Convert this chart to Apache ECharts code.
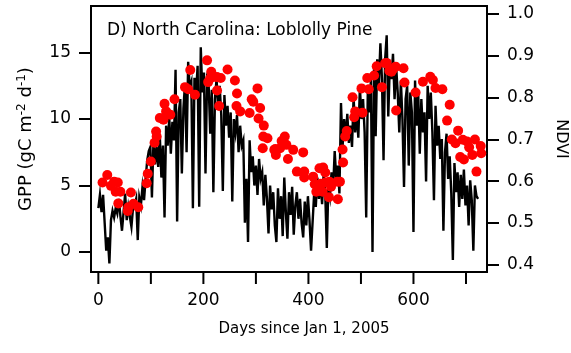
<!DOCTYPE html>
<html>
<head>
<meta charset="utf-8">
<script src="https://cdn.jsdelivr.net/npm/echarts@6/dist/echarts.min.js"></script>
<style>
html,body{margin:0;padding:0;background:#fff;}
#chart{width:571px;height:353px;}
</style>
</head>
<body>
<div id="chart"></div>
<script>
// ---- Data ----
const titleText = 'D) North Carolina: Loblolly Pine';
const xAxisTitle = 'Days since Jan 1, 2005';

// Daily GPP sampled every 3 days starting at day 0 (gC m-2 d-1)
const gppStartDay = 0;
const gppStepDays = 3;
const gpp = [
  3.3, 4.3, 3.0, 4.3, 2.2, 0.1, 1.1, -0.85, 2.4, 3.1,
  2.6, 3.3, 2.9, 4.0, 2.7, 1.6, 3.0, 4.4, 2.4, 3.4,
  3.3, 1.9, 3.3, 3.5, 4.0, 0.9, 4.1, 3.5, 4.9, 3.9,
  5.5, 6.9, 7.6, 7.9, 4.1, 8.4, 6.6, 7.9, 6.4, 8.8,
  5.6, 8.0, 2.6, 9.5, 8.0, 10.1, 7.4, 9.8, 8.4, 13.7,
  2.3, 10.5, 11.5, 5.9, 10.8, 12.7, 7.5, 14.3, 12.4, 12.8,
  3.3, 13.1, 11.9, 14.0, 3.4, 15.4, 12.0, 13.5, 5.9, 13.0,
  12.6, 8.9, 12.2, 4.5, 11.5, 13.0, 11.0, 12.5, 10.3, 4.6,
  11.8, 9.5, 11.0, 8.6, 10.5, 3.8, 10.0, 9.0, 10.3, 7.5,
  9.5, 8.0, 8.4, 2.2, 5.5, 0.75, 8.4, 6.0, 7.2, 5.0,
  6.5, 4.3, 7.0, 5.5, 6.0, 3.5, 5.8, 4.0, 1.4, 5.0,
  3.2, 4.5, 2.0, 0.75, 4.8, 2.5, 4.2, 1.2, 5.6, 3.0,
  1.0, 4.5, 2.8, 4.9, 1.3, 3.5, 4.5, 2.5, 4.0, 2.2,
  1.1, 3.8, 2.0, 4.2, 2.4, 0.1, 0.25, 4.5, 3.4, 5.6,
  4.0, 5.2, 3.6, 5.9, 4.4, 0.3, 5.0, 4.2, 6.0, 4.8,
  7.6, 5.5, 6.5, 4.4, 11.2, 7.9, 10.0, 8.5, 10.4, 8.2,
  9.5, 7.9, 11.7, 9.0, 10.5, 8.6, 12.4, 10.0, 11.5, 9.0,
  2.6, 12.0, 10.5, 13.0, 0.0, 14.0, 8.7, 14.5, 12.5, 15.7,
  13.0, 6.9, 14.5, 16.3, 10.2, 14.2, 13.0, 14.9, 11.5, 14.0,
  12.0, 9.0, 12.9, 10.0, 4.9, 11.5, 12.5, 6.5, 12.0, 10.5,
  1.5, 12.9, 9.5, 12.0, 7.4, 11.5, 9.0, 10.5, 5.3, 12.5,
  10.0, 12.0, 9.0, 3.9, 11.0, 8.0, 9.5, 7.0, 8.5, 1.6,
  7.5, 8.9, 5.5, 7.2, 4.4, -0.6, 6.7, 4.5, 6.0, 3.4,
  5.8, 4.0, 6.2, 3.5, 5.0, 2.0, 5.4, 3.9, 0.1, 5.0,
  4.2, 4.0
];

// NDVI observations (day, value)
const ndviDays = [
  8, 17, 24, 30, 33, 37, 38, 42, 56, 57, 62, 67, 76,
  92, 94, 100, 107, 110, 111, 117, 124, 126, 129, 137, 145,
  165, 171, 175, 184, 207, 209, 213, 215, 220, 226, 226, 230, 233,
  246, 260, 263, 264, 270, 288, 292, 295, 303, 305, 308,
  313, 314, 315, 322, 335, 337, 338, 346, 349, 355, 358, 361,
  371, 378, 390, 392, 392, 409, 412, 415, 421, 423, 427, 428, 432, 432,
  439, 440, 443, 455, 456, 460, 465, 466, 470, 473,
  484, 487, 489, 501, 503, 512, 515, 525, 530, 540, 546, 549,
  554, 558, 561, 566, 567, 581, 583, 604, 618, 632, 637, 642, 655,
  664, 669, 673, 680, 685, 689, 694, 696, 702, 706, 712, 717, 720, 728, 729
];
const ndvi = [
  0.597, 0.615, 0.589, 0.599, 0.575, 0.597, 0.547, 0.575, 0.529, 0.538, 0.573, 0.546, 0.538,
  0.595, 0.618, 0.647, 0.692, 0.719, 0.707, 0.751, 0.747, 0.785, 0.767, 0.759, 0.796,
  0.825, 0.820, 0.866, 0.807, 0.889, 0.837, 0.846, 0.862, 0.850, 0.817, 0.849, 0.780, 0.847,
  0.867, 0.841, 0.780, 0.810, 0.767, 0.763, 0.796, 0.790, 0.822, 0.750, 0.775,
  0.679, 0.707, 0.733, 0.703, 0.675, 0.677, 0.663, 0.679, 0.696, 0.707, 0.687, 0.653,
  0.675, 0.623, 0.669, 0.623, 0.609, 0.611, 0.593, 0.575, 0.631, 0.594, 0.575, 0.633, 0.621, 0.597,
  0.562, 0.599, 0.587, 0.599, 0.557, 0.599, 0.676, 0.645, 0.707, 0.720,
  0.801, 0.753, 0.767, 0.822, 0.764, 0.847, 0.820, 0.853, 0.875, 0.825, 0.882, 0.883,
  0.864, 0.862, 0.868, 0.874, 0.769, 0.870, 0.836, 0.812, 0.838, 0.850, 0.842, 0.823, 0.820,
  0.745, 0.783, 0.700, 0.691, 0.721, 0.658, 0.699, 0.652, 0.695, 0.681, 0.663, 0.700, 0.623, 0.684, 0.667
];

// Axis ticks
const xTickValues = [0, 100, 200, 300, 400, 500, 600, 700];
const xLabelValues = [0, 200, 400, 600];
const gppTickValues = [0, 5, 10, 15];
const ndviTickValues = [0.4, 0.5, 0.6, 0.7, 0.8, 0.9, 1.0];

// Axis ranges
const xMin = -14, xMax = 740;
const gppMin = -1.5, gppMax = 18.5;
const ndviMin = 0.383, ndviMax = 1.019;

// ---- Build series data ----
const gppData = gpp.map((v, i) => [gppStartDay + i * gppStepDays, v]);
const ndviData = ndviDays.map((d, i) => [d, ndvi[i]]);
const xTickData = xTickValues.map(v => [v, gppMin]);

const FONT = 'DejaVu Sans';
const TICK_LEN = 12;
const chart = echarts.init(document.getElementById('chart'), null, {renderer: 'canvas'});

chart.setOption({
  animation: false,
  backgroundColor: '#ffffff',
  textStyle: {fontFamily: FONT, color: '#000'},
  title: {
    text: titleText,
    left: 102, top: 17,
    textStyle: {fontFamily: FONT, fontSize: 17, fontWeight: 'normal', color: '#000'}
  },
  grid: {
    left: 91, right: 84, top: 6, bottom: 81,
    containLabel: false, outerBoundsMode: 'none',
    show: true, borderColor: '#000', borderWidth: 2, backgroundColor: 'transparent'
  },
  xAxis: {
    type: 'value', min: xMin, max: xMax, position: 'bottom',
    name: xAxisTitle, nameLocation: 'middle', nameGap: 50,
    nameTextStyle: {fontFamily: FONT, fontSize: 15, color: '#000', padding: [0, 0, 0, 30]},
    axisLine: {show: true, onZero: false, lineStyle: {color: '#000', width: 2}},
    splitLine: {show: false},
    axisTick: {show: false},
    axisLabel: {customValues: xLabelValues, margin: 20, fontFamily: FONT, fontSize: 17, color: '#000'}
  },
  yAxis: [
    {
      type: 'value', position: 'left', min: gppMin, max: gppMax,
      name: '{a|GPP (gC m}{b|-2}{a| d}{b|-1}{a|)}', nameLocation: 'middle', nameGap: 54,
      nameTextStyle: {
        fontFamily: FONT, color: '#000',
        rich: {
          a: {fontFamily: FONT, fontSize: 18, lineHeight: 21, color: '#000', verticalAlign: 'middle'},
          b: {fontFamily: FONT, fontSize: 12, lineHeight: 13, color: '#000', verticalAlign: 'top'}
        }
      },
      axisLine: {show: true, onZero: false, lineStyle: {color: '#000', width: 2}},
      splitLine: {show: false},
      axisTick: {show: true, inside: false, length: TICK_LEN, customValues: gppTickValues,
        lineStyle: {color: '#000', width: 2}},
      axisLabel: {customValues: gppTickValues, margin: 20, fontFamily: FONT, fontSize: 17, color: '#000'}
    },
    {
      type: 'value', position: 'right', min: ndviMin, max: ndviMax,
      name: 'NDVI', nameLocation: 'middle', nameGap: 66, nameRotate: -90,
      nameTextStyle: {fontFamily: FONT, fontSize: 16, color: '#000'},
      axisLine: {show: true, onZero: false, lineStyle: {color: '#000', width: 2}},
      splitLine: {show: false},
      axisTick: {show: true, inside: false, length: TICK_LEN, customValues: ndviTickValues,
        lineStyle: {color: '#000', width: 2}},
      axisLabel: {customValues: ndviTickValues, margin: 20, fontFamily: FONT, fontSize: 17, color: '#000',
        formatter: v => v.toFixed(1)}
    }
  ],
  series: [
    {
      name: 'GPP', type: 'line', yAxisIndex: 0, data: gppData,
      showSymbol: false, symbol: 'none',
      lineStyle: {color: '#000', width: 2.4, join: 'miter'},
      z: 2
    },
    {
      name: 'NDVI', type: 'scatter', yAxisIndex: 1, data: ndviData,
      symbol: 'circle', symbolSize: 10,
      itemStyle: {color: '#ff0000', opacity: 1},
      z: 3
    },
    {
      // outward ticks of the day axis, placed with the axis scale
      name: 'xTicks', type: 'custom', yAxisIndex: 0, data: xTickData,
      clip: false, silent: true, z: 4,
      renderItem: function (params, api) {
        const p = api.coord([api.value(0), api.value(1)]);
        return {
          type: 'line',
          shape: {x1: p[0], y1: p[1], x2: p[0], y2: p[1] + TICK_LEN},
          style: {stroke: '#000', lineWidth: 2}
        };
      }
    }
  ]
});
</script>
</body>
</html>
